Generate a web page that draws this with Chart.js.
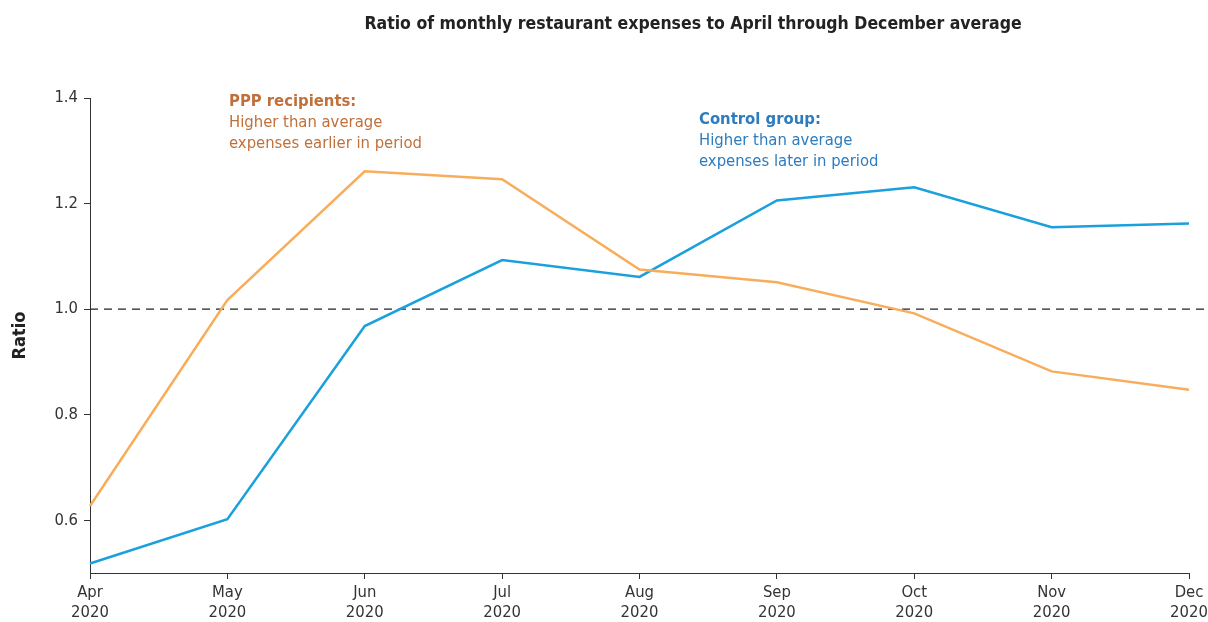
<!DOCTYPE html>
<html lang="en">
<head>
  <meta charset="UTF-8">
  <title>Restaurant expenses ratio</title>
  <script src="https://cdn.jsdelivr.net/npm/chart.js"></script>
  <style>
    body { margin: 0; background: #fff; }
    #wrap { width: 1208px; height: 622px; }
  </style>
</head>
<body>
  <div id="wrap"><canvas id="grafico" width="1208" height="622"></canvas></div>
  <script>
    // dados
    const months = ['Apr', 'May', 'Jun', 'Jul', 'Aug', 'Sep', 'Oct', 'Nov', 'Dec'];
    const year = '2020';
    const pppRecipients = [0.627, 1.017, 1.261, 1.246, 1.075, 1.051, 0.992, 0.882, 0.847];
    const controlGroup = [0.518, 0.602, 0.968, 1.093, 1.061, 1.206, 1.231, 1.155, 1.162];
    const yTicks = [0.6, 0.8, 1.0, 1.2, 1.4];
    const referenceLine = 1.0;

    const FONT = "'Liberation Sans Narrow', 'DejaVu Sans Condensed', 'Open Sans', sans-serif";
    const ORANGE = '#F8AD5C';
    const BLUE = '#1AA0DC';

    // linha tracejada, título e anotações
    const extras = {
      id: 'extras',
      beforeDatasetsDraw(chart) {
        const ctx = chart.ctx;
        const y = chart.scales.y.getPixelForValue(referenceLine);
        ctx.save();
        ctx.strokeStyle = '#222';
        ctx.lineWidth = 1.2;
        ctx.setLineDash([8, 6]);
        ctx.beginPath();
        ctx.moveTo(chart.chartArea.left, y);
        ctx.lineTo(chart.width, y);
        ctx.stroke();
        ctx.restore();
      },
      afterDraw(chart) {
        const ctx = chart.ctx;
        ctx.save();
        ctx.textBaseline = 'middle';
        ctx.textAlign = 'center';
        ctx.fillStyle = '#222';
        ctx.font = 'bold 17.5px ' + FONT;
        ctx.fillText('Ratio of monthly restaurant expenses to April through December average', 693, 24);

        ctx.textAlign = 'left';
        ctx.fillStyle = '#C0703A';
        ctx.font = 'bold 16.5px ' + FONT;
        ctx.fillText('PPP recipients:', 229, 102);
        ctx.font = '16.5px ' + FONT;
        ctx.fillText('Higher than average', 229, 123);
        ctx.fillText('expenses earlier in period', 229, 144);

        ctx.fillStyle = '#2C7CBF';
        ctx.font = 'bold 16.5px ' + FONT;
        ctx.fillText('Control group:', 699, 120);
        ctx.font = '16.5px ' + FONT;
        ctx.fillText('Higher than average', 699, 141);
        ctx.fillText('expenses later in period', 699, 162);
        ctx.restore();
      }
    };

    new Chart(document.getElementById('grafico'), {
      type: 'line',
      data: {
        labels: months.map(m => [m, year]),
        datasets: [
          { label: 'PPP recipients', data: pppRecipients, borderColor: ORANGE, borderWidth: 2.5, pointRadius: 0, tension: 0, fill: false },
          { label: 'Control group', data: controlGroup, borderColor: BLUE, borderWidth: 2.5, pointRadius: 0, tension: 0, fill: false }
        ]
      },
      options: {
        responsive: false,
        animation: false,
        layout: { padding: { top: 98, right: 19, left: 10, bottom: 0 } },
        plugins: { legend: { display: false }, tooltip: { enabled: false } },
        scales: {
          x: {
            offset: false,
            grid: { display: true, drawOnChartArea: false, drawTicks: true, tickLength: 6, color: '#333' },
            border: { display: true, color: '#333', width: 1 },
            ticks: { color: '#333', font: { family: FONT, size: 16.5 }, padding: 4, maxRotation: 0, autoSkip: false },
            afterFit(scale) { scale.height = 49; scale.paddingRight = 0; scale.paddingLeft = 0; }
          },
          y: {
            min: 0.5,
            max: 1.4,
            afterBuildTicks(scale) { scale.ticks = yTicks.map(v => ({ value: v })); },
            grid: { display: true, drawOnChartArea: false, drawTicks: true, tickLength: 6, color: '#333' },
            border: { display: true, color: '#333', width: 1 },
            ticks: { color: '#333', font: { family: FONT, size: 16.5 }, padding: 6, callback: v => v.toFixed(1) },
            title: { display: true, text: 'Ratio', color: '#222', font: { family: FONT, size: 18, weight: 'bold' }, padding: 0 },
            afterFit(scale) { scale.width = 80; }
          }
        }
      },
      plugins: [extras]
    });
  </script>
</body>
</html>
